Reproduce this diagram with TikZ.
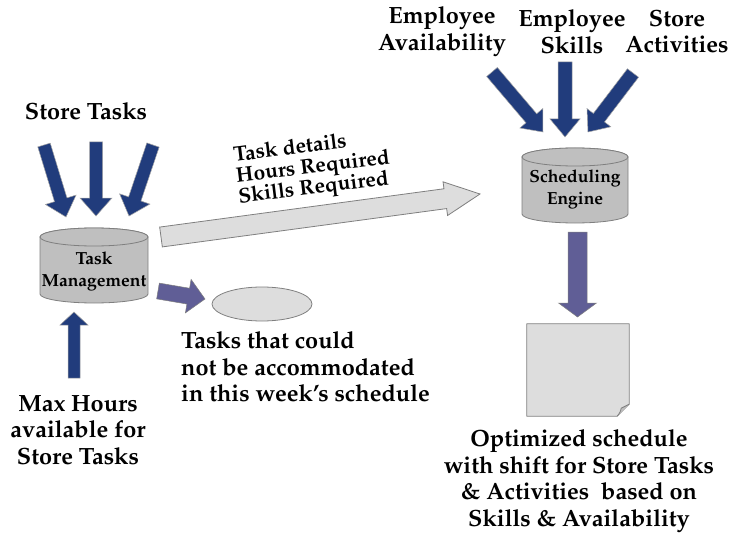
\documentclass[tikz,border=0pt]{standalone}
\usepackage[T1]{fontenc}
\usepackage{mathpazo}
\usetikzlibrary{calc,shapes.geometric}

\definecolor{navy}{HTML}{213C7C}
\definecolor{violet}{HTML}{605E96}
\definecolor{paper}{HTML}{DDDDDD}
\definecolor{drumgrey}{HTML}{BFBFBF}
\definecolor{edge}{HTML}{7F7F7F}

\tikzset{
  caption/.style={font=\fontsize{23.5}{26.5}\selectfont\bfseries, align=center, inner sep=0pt},
  drumtext/.style={font=\fontsize{17.5}{22}\selectfont\bfseries, align=center, inner sep=0pt},
  drum/.style={fill=drumgrey, draw=edge, line width=0.8pt},
  sheet/.style={fill=paper, draw=edge, line width=0.8pt, line join=round},
  feed/.style={fill=navy, draw=edge!70, line width=0.5pt, line join=miter},
  flow/.style={fill=violet, draw=edge, line width=0.5pt, line join=miter},
  pipe/.style={fill=paper, draw=edge, line width=0.8pt, line join=miter},
}

% block arrow: [style]{from}{to}{half shaft}{half head}{head length}
\newcommand\blockarrow[6][]{%
  \coordinate (bahead) at ($(#3)!#6!(#2)$);
  \draw[#1] ($(#2)!#4!90:(#3)$) -- ($(bahead)!#4!-90:(#2)$)
    -- ($(bahead)!#5!-90:(#2)$) -- (#3) -- ($(bahead)!#5!90:(#2)$)
    -- ($(bahead)!#4!90:(#2)$) -- ($(#2)!#4!-90:(#3)$) -- cycle;}

% drum (database cylinder): {centre}{half width}{half height}{lid radius}
\newcommand\drawdrum[4]{%
  \draw[drum] ($(#1)+(-#2,#3-#4)$) -- ($(#1)+(-#2,-#3+#4)$)
    arc[start angle=180,end angle=360,x radius=#2,y radius=#4]
    -- ($(#1)+(#2,#3-#4)$)
    arc[start angle=0,end angle=180,x radius=#2,y radius=#4] -- cycle;
  \draw[drum] ($(#1)+(0,#3-#4)$) ellipse[x radius=#2,y radius=#4];}

\begin{document}
\begin{tikzpicture}[x=1pt,y=1pt]
\useasboundingbox (0,0) rectangle (732,-535);

% ---- task management ----
\coordinate (tmc) at (94,-265.5);
\drawdrum{tmc}{54}{37.5}{9}
\node[drumtext] (tm) at (94,-271) {Task\\Management};

\node[caption] (storetasks) at (86,-111) {Store Tasks};
\coordinate (st1a) at (44,-145);  \coordinate (st1b) at (66,-217);
\coordinate (st2a) at (96,-142);  \coordinate (st2b) at (96,-216);
\coordinate (st3a) at (153,-145); \coordinate (st3b) at (129,-216);
\blockarrow[feed]{st1a}{st1b}{6.5pt}{16pt}{18pt}
\blockarrow[feed]{st2a}{st2b}{6.5pt}{16pt}{18pt}
\blockarrow[feed]{st3a}{st3b}{6.5pt}{16pt}{18pt}

\node[caption] (maxhours) at (78,-430) {Max Hours\\available for\\Store Tasks};
\coordinate (mha) at (74,-378); \coordinate (mhb) at (74,-312);
\blockarrow[feed]{mha}{mhb}{6pt}{14pt}{13pt}

% ---- leftover tasks ----
\node[ellipse, fill=paper, draw=edge, line width=0.8pt, minimum width=100pt,
      minimum height=34pt, inner sep=0pt] (leftover) at (262,-304) {};
\coordinate (lfa) at (158,-291); \coordinate (lfb) at (205,-299);
\blockarrow[flow]{lfa}{lfb}{8pt}{17pt}{17pt}
\node[caption, align=left, anchor=west] (leftovertext) at (181,-367)
  {Tasks that could\\not be accommodated\\in this week's schedule};

% ---- task details into the engine ----
\coordinate (tda) at (161,-237); \coordinate (tdb) at (480,-194);
\blockarrow[pipe]{tda}{tdb}{10pt}{17pt}{35pt}
\node[font=\fontsize{21}{21}\selectfont\bfseries, align=left, inner sep=0pt,
      rotate=7] (details) at (313,-168) {Task details\\Hours Required\\Skills Required};

% ---- scheduling engine ----
\coordinate (sec) at (575,-185.5);
\drawdrum{sec}{53}{37.5}{9}
\node[drumtext] (engine) at (575,-189) {Scheduling\\Engine};

\node[caption] (avail) at (442,-31.5) {Employee\\Availability};
\node[caption] (skills) at (572,-31.5) {Employee\\Skills};
\node[caption] (acts) at (677,-31.5) {Store\\Activities};
\coordinate (e1a) at (492,-72);  \coordinate (e1b) at (543,-132);
\coordinate (e2a) at (565,-62);  \coordinate (e2b) at (565,-137);
\coordinate (e3a) at (633,-73);  \coordinate (e3b) at (588,-132);
\blockarrow[feed]{e1a}{e1b}{7pt}{15pt}{18pt}
\blockarrow[feed]{e2a}{e2b}{7pt}{15pt}{18pt}
\blockarrow[feed]{e3a}{e3b}{7pt}{15pt}{18pt}

% ---- schedule output ----
\coordinate (oa) at (577.5,-232); \coordinate (ob) at (577.5,-317);
\blockarrow[flow]{oa}{ob}{9.5pt}{19pt}{14pt}

\node[minimum width=102pt, minimum height=92pt, inner sep=0pt] (schedule) at (578,-370) {};
\draw[sheet] (schedule.north west) -- (schedule.north east)
  -- ($(schedule.south east)+(0,12)$) -- ($(schedule.south east)+(-12,0)$)
  -- (schedule.south west) -- cycle;
\draw[sheet, fill=drumgrey] ($(schedule.south east)+(0,12)$)
  .. controls ($(schedule.south east)+(-6,9)$) .. ($(schedule.south east)+(-8,8)$)
  .. controls ($(schedule.south east)+(-9,4)$) .. ($(schedule.south east)+(-12,0)$);

\node[caption] (result) at (579,-481)
  {Optimized schedule\\with shift for Store Tasks\\\& Activities\ \ based on\\Skills \& Availability};
\end{tikzpicture}
\end{document}
